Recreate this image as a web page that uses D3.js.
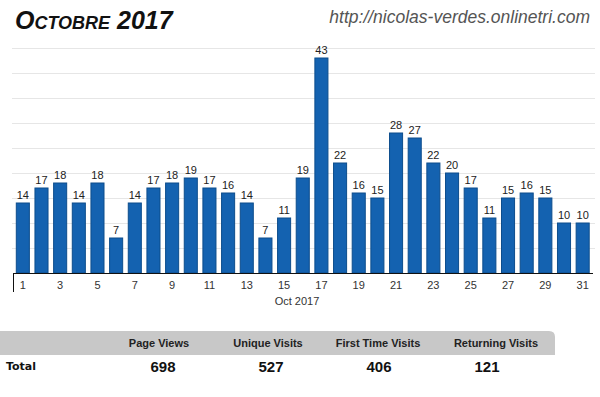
<!DOCTYPE html>
<html>
<head>
<meta charset="utf-8">
<script src="https://cdn.jsdelivr.net/npm/d3@7"></script>
<style>
  body { margin: 0; background: #fff; }
  svg { display: block; }
</style>
</head>
<body>
<div id="graph"></div>
<script>
const days = d3.range(1, 32);
const visits = [14, 17, 18, 14, 18, 7, 14, 17, 18, 19, 17, 16, 14, 7, 11, 19, 43, 22, 16, 15, 28, 27, 22, 20, 17, 11, 15, 16, 15, 10, 10];
const tableHeaders = ["Page Views", "Unique Visits", "First Time Visits", "Returning Visits"];
const tableTotals = [698, 527, 406, 121];

const w = 600;
const h = 397;

const svg = d3.select("#graph")
              .append("svg")
              .attr("width", w)
              .attr("height", h);

// title + url
svg.append("text")
   .attr("x", 15).attr("y", 29)
   .attr("font-family", "Liberation Sans, Arial, sans-serif")
   .attr("font-size", 25)
   .attr("font-weight", "bold")
   .attr("font-style", "italic")
   .style("font-variant", "small-caps")
   .attr("fill", "#111")
   .text("Octobre 2017");

svg.append("text")
   .attr("x", 590).attr("y", 23)
   .attr("text-anchor", "end")
   .attr("font-family", "Liberation Sans, Arial, sans-serif")
   .attr("font-size", 17.5)
   .attr("font-style", "italic")
   .attr("fill", "#555")
   .text("http://nicolas-verdes.onlinetri.com");

const xScale = d3.scaleBand()
                 .domain(days)
                 .range([13.5, 592])
                 .paddingInner(0.3)
                 .paddingOuter(0.15);
const yScale = d3.scaleLinear()
                 .domain([0, 45])
                 .range([273, 48]);

// grid
svg.append("g")
   .selectAll("line")
   .data(yScale.ticks(9).filter(t => t > 0))
   .enter()
   .append("line")
   .attr("x1", 12).attr("x2", 595)
   .attr("y1", d => Math.round(yScale(d)) + 0.5)
   .attr("y2", d => Math.round(yScale(d)) + 0.5)
   .attr("stroke", "#e6e6e6");

svg.selectAll("rect.bar")
   .data(visits)
   .enter()
   .append("rect")
   .attr("class", "bar")
   .attr("x", (d, i) => xScale(days[i]))
   .attr("y", d => yScale(d))
   .attr("width", xScale.bandwidth())
   .attr("height", d => yScale(0) - yScale(d))
   .attr("fill", "#1462b0")
   .attr("stroke", "#0d4d8c")
   .attr("stroke-width", 1);

svg.selectAll("text.val")
   .data(visits)
   .enter()
   .append("text")
   .attr("class", "val")
   .attr("x", (d, i) => xScale(days[i]) + xScale.bandwidth() / 2)
   .attr("y", d => yScale(d) - 4)
   .attr("text-anchor", "middle")
   .attr("font-family", "Liberation Sans, Arial, sans-serif")
   .attr("font-size", 11)
   .attr("fill", "#222")
   .text(d => d);

// x axis
const xAxis = d3.axisBottom(xScale)
                .tickValues(days.filter(d => d % 2 === 1))
                .tickSize(0)
                .tickPadding(8);
const gx = svg.append("g")
              .attr("transform", "translate(0, 273.5)")
              .call(xAxis);
gx.select(".domain").remove();
gx.selectAll("text")
  .attr("font-family", "Liberation Sans, Arial, sans-serif")
  .attr("font-size", 11)
  .attr("fill", "#333");

svg.append("line")
   .attr("x1", 13.5).attr("x2", 593)
   .attr("y1", 273.5).attr("y2", 273.5)
   .attr("stroke", "#111");
svg.append("line")
   .attr("x1", 13.5).attr("x2", 13.5)
   .attr("y1", 273).attr("y2", 292)
   .attr("stroke", "#111");

svg.append("text")
   .attr("x", 297).attr("y", 305)
   .attr("text-anchor", "middle")
   .attr("font-family", "Liberation Sans, Arial, sans-serif")
   .attr("font-size", 11)
   .attr("fill", "#333")
   .text("Oct 2017");

// summary table
svg.append("path")
   .attr("d", "M0,331 H549 Q555,331 555,337 V355 H0 Z")
   .attr("fill", "#c8c8c8");

const headX = [159, 268, 378, 496];
const valX = [163, 271, 379, 487];

svg.selectAll("text.head")
   .data(tableHeaders)
   .enter()
   .append("text")
   .attr("class", "head")
   .attr("x", (d, i) => headX[i])
   .attr("y", 347)
   .attr("text-anchor", "middle")
   .attr("font-family", "Liberation Sans, Arial, sans-serif")
   .attr("font-size", 11)
   .attr("font-weight", "bold")
   .attr("fill", "#222")
   .text(d => d);

svg.selectAll("text.tot")
   .data(tableTotals)
   .enter()
   .append("text")
   .attr("class", "tot")
   .attr("x", (d, i) => valX[i])
   .attr("y", 372)
   .attr("text-anchor", "middle")
   .attr("font-family", "Liberation Sans, Arial, sans-serif")
   .attr("font-size", 15)
   .attr("font-weight", "bold")
   .attr("fill", "#111")
   .text(d => d);

svg.append("text")
   .attr("x", 6).attr("y", 370)
   .attr("font-family", "DejaVu Sans, Verdana, sans-serif")
   .attr("font-size", 11)
   .attr("font-weight", "bold")
   .attr("fill", "#111")
   .text("Total");
</script>
</body>
</html>
